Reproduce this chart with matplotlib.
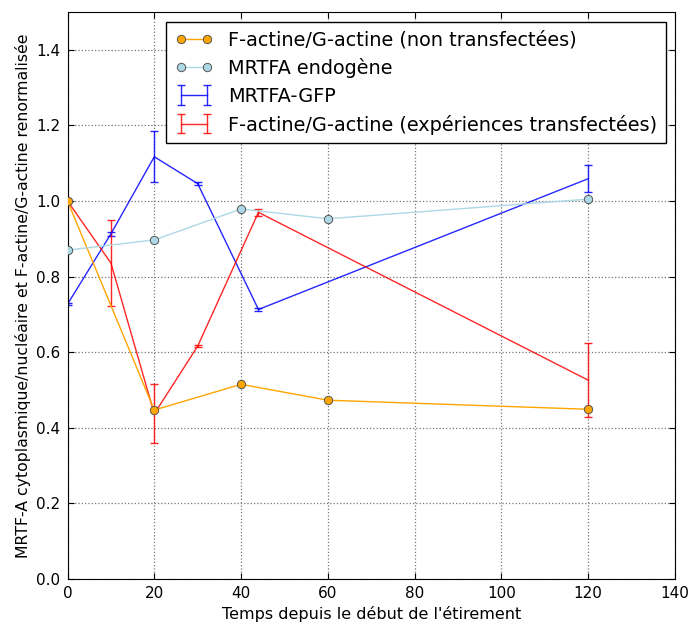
import matplotlib
matplotlib.use("Agg")
import matplotlib.pyplot as plt

# Data
x_nt = [0, 20, 40, 60, 120]
y_nt = [1.0, 0.447, 0.515, 0.473, 0.449]

x_endo = [0, 20, 40, 60, 120]
y_endo = [0.870, 0.897, 0.979, 0.953, 1.005]

x_gfp = [0, 10, 20, 30, 44, 120]
y_gfp = [0.727, 0.913, 1.117, 1.046, 0.713, 1.059]
e_gfp = [0.003, 0.005, 0.067, 0.003, 0.004, 0.035]

x_tr = [0, 10, 20, 30, 44, 120]
y_tr = [1.0, 0.836, 0.437, 0.616, 0.970, 0.526]
e_tr = [0.003, 0.115, 0.078, 0.003, 0.01, 0.098]

labels = ["F-actine/G-actine (non transfectées)", "MRTFA endogène",
          "MRTFA-GFP", "F-actine/G-actine (expériences transfectées)"]

plt.rcParams['font.family'] = ['DejaVu Sans']
fig = plt.figure(figsize=(6.9, 6.27), dpi=100, facecolor='white')
ax = fig.add_axes([67.5 / 690, 1 - 579 / 627, 607.5 / 690, 567 / 627])

ax.plot(x_nt, y_nt, '-o', color='orange', markersize=6, markeredgecolor='#555555',
        markeredgewidth=0.7, lw=1, label=labels[0], zorder=3)
ax.plot(x_endo, y_endo, '-o', color='lightblue', markersize=6, markeredgecolor='#555555',
        markeredgewidth=0.7, lw=1, label=labels[1], zorder=3)
ax.errorbar(x_gfp, y_gfp, yerr=e_gfp, color='blue', lw=1, capsize=3, alpha=0.85,
            label=labels[2])
ax.errorbar(x_tr, y_tr, yerr=e_tr, color='red', lw=1, capsize=3, alpha=0.85,
            label=labels[3])

ax.set_xlim(0, 140)
ax.set_ylim(0, 1.5)
ax.set_xticks(range(0, 141, 20))
ax.set_yticks([0.0, 0.2, 0.4, 0.6, 0.8, 1.0, 1.2, 1.4])
ax.set_yticklabels(['0.0', '0.2', '0.4', '0.6', '0.8', '1.0', '1.2', '1.4'])
ax.grid(True, linestyle=':', color='#777777', lw=0.9)
ax.tick_params(direction='in', top=True, right=True, labelsize=11, length=4, pad=5)
ax.set_xlabel("Temps depuis le début de l'étirement", fontsize=11.5)
ax.set_ylabel("MRTF-A cytoplasmique/nucléaire et F-actine/G-actine renormalisée", fontsize=11.3)

leg = ax.legend(loc='upper right', bbox_to_anchor=(0.985, 0.982), borderaxespad=0,
                fontsize=13.9, fancybox=False, framealpha=1, edgecolor='black', numpoints=2,
                handlelength=1.95, handletextpad=0.83, borderpad=0.43, labelspacing=0.45)
leg.get_frame().set_linewidth(1)

fig.savefig("out.png", dpi=100, facecolor='white')
